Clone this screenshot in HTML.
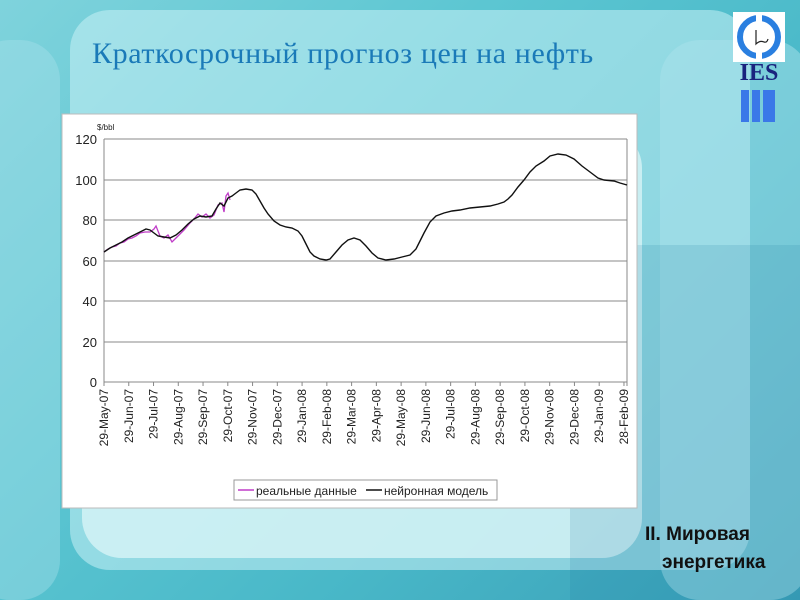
<!DOCTYPE html>
<html><head><meta charset="utf-8"><style>
html,body{margin:0;padding:0}
body{width:800px;height:600px;overflow:hidden;position:relative;background:linear-gradient(135deg,#7fd3dc 0%,#5cc6d2 35%,#49b8c8 65%,#3a9fb8 100%);font-family:"Liberation Sans",sans-serif}
.p{position:absolute;border-radius:40px}
</style></head><body>
<div class="p" style="left:70px;top:10px;width:680px;height:560px;background:rgba(200,240,245,0.55)"></div>
<div class="p" style="left:660px;top:40px;width:150px;height:560px;background:rgba(170,225,235,0.5)"></div>
<div class="p" style="left:-30px;top:40px;width:90px;height:560px;background:rgba(170,225,235,0.4)"></div>
<div class="p" style="left:82px;top:128px;width:560px;height:430px;background:rgba(225,248,250,0.7)"></div>
<div style="position:absolute;left:570px;top:245px;width:230px;height:355px;background:rgba(30,120,160,0.15)"></div>
<div style="position:absolute;left:92px;top:37px;font-family:'Liberation Serif',serif;font-size:30px;color:#1a7ab8;letter-spacing:0.6px">Краткосрочный прогноз цен на нефть</div>
<svg style="position:absolute;left:733px;top:12px" width="62" height="115">
<rect x="0" y="0" width="52" height="50" fill="#fff"/>
<circle cx="26" cy="25" r="19" fill="none" stroke="#2a7fe0" stroke-width="6"/>
<rect x="23" y="0" width="6" height="50" fill="#fff"/>
<path d="M23 18 V32 Q27 28 31 30 Q34 31 35 27" fill="none" stroke="#222" stroke-width="1.2"/>
<text x="26" y="68" text-anchor="middle" font-family="Liberation Serif,serif" font-weight="bold" font-size="24" fill="#1a237e">IES</text>
<rect x="8" y="78" width="8" height="32" fill="#3a78e8"/><rect x="19" y="78" width="8" height="32" fill="#3a78e8"/><rect x="30" y="78" width="12" height="32" fill="#3a78e8"/>
</svg>
<svg style="position:absolute;left:0;top:0" width="800" height="600">
<rect x="62" y="114" width="575" height="394" fill="#fff" stroke="#bbb"/>
<g stroke="#888" stroke-width="1">
<line x1="104" y1="139" x2="627" y2="139"/><line x1="104" y1="180" x2="627" y2="180"/><line x1="104" y1="220" x2="627" y2="220"/><line x1="104" y1="261" x2="627" y2="261"/><line x1="104" y1="301" x2="627" y2="301"/><line x1="104" y1="342" x2="627" y2="342"/><line x1="104" y1="382" x2="627" y2="382"/>
<line x1="104" y1="139" x2="104" y2="382"/><line x1="627" y1="139" x2="627" y2="386"/>
</g>
<g font-family="Liberation Sans,sans-serif" font-size="13" fill="#222" text-anchor="end">
<text x="97" y="144">120</text><text x="97" y="185">100</text><text x="97" y="225">80</text><text x="97" y="266">60</text><text x="97" y="306">40</text><text x="97" y="347">20</text><text x="97" y="387">0</text>
</g>
<text x="97" y="130" font-family="Liberation Sans,sans-serif" font-size="8" fill="#222">$/bbl</text>
<g id="ticks" stroke="#888"></g>
<g id="labs" font-family="Liberation Sans,sans-serif" font-size="12" fill="#222"></g>
<polyline fill="none" stroke="#c03cc8" stroke-width="1.3" points="104,252 108,249 112,247 116,246 120,243 124,242 128,239 132,238 136,236 140,233 145,232 150,232 154,229 156,226 160,236 164,238 168,235 172,242 176,238 180,234 184,230 190,223 194,219 198,214 202,217 206,214 210,218 214,215 218,205 222,203 224,212 226,196 228,193 230,200"/>
<polyline fill="none" stroke="#111" stroke-width="1.4" points="104,252 110,248 116,245 122,242 128,238 134,235 140,232 146,229 150,230 154,233 158,236 164,237 170,238 176,235 182,230 188,224 194,219 200,216 206,217 212,216 216,209 220,203 224,206 228,198 232,196 236,193 240,190 246,189 252,190 256,194 260,201 264,208 268,214 274,221 280,225 286,227 292,228 298,231 302,236 306,244 310,252 314,256 320,259 326,260 330,259 336,252 342,245 348,240 354,238 360,240 366,246 372,253 378,258 386,260 394,259 402,257 410,255 416,249 420,241 424,233 430,222 436,216 444,213 452,211 460,210 470,208 480,207 490,206 498,204 504,202 508,199 512,195 518,187 524,180 530,172 536,166 544,161 550,156 558,154 566,155 574,159 582,166 590,172 598,178 604,180 614,181 620,183 627,185"/>
<rect x="234" y="480" width="263" height="20" fill="#fff" stroke="#999"/>
<line x1="238" y1="490" x2="254" y2="490" stroke="#c03cc8" stroke-width="1.5"/>
<text x="256" y="495" font-family="Liberation Sans,sans-serif" font-size="12" fill="#222">реальные данные</text>
<line x1="366" y1="490" x2="382" y2="490" stroke="#111" stroke-width="1.5"/>
<text x="384" y="495" font-family="Liberation Sans,sans-serif" font-size="12" fill="#222">нейронная модель</text>
<text x="645" y="540" font-family="Liberation Sans,sans-serif" font-size="19" font-weight="bold" fill="#111">II. Мировая</text>
<text x="662" y="568" font-family="Liberation Sans,sans-serif" font-size="19" font-weight="bold" fill="#111">энергетика</text>
</svg>
<script>
var L=["29-May-07","29-Jun-07","29-Jul-07","29-Aug-07","29-Sep-07","29-Oct-07","29-Nov-07","29-Dec-07","29-Jan-08","29-Feb-08","29-Mar-08","29-Apr-08","29-May-08","29-Jun-08","29-Jul-08","29-Aug-08","29-Sep-08","29-Oct-08","29-Nov-08","29-Dec-08","29-Jan-09","28-Feb-09"];
var t=document.getElementById('ticks'),g=document.getElementById('labs'),ns="http://www.w3.org/2000/svg";
for(var i=0;i<22;i++){var x=104+i*24.76;
var l=document.createElementNS(ns,'line');l.setAttribute('x1',x);l.setAttribute('x2',x);l.setAttribute('y1',382);l.setAttribute('y2',386);t.appendChild(l);
var s=document.createElementNS(ns,'text');s.setAttribute('text-anchor','end');s.setAttribute('transform','translate('+(x+4)+',389) rotate(-90)');s.textContent=L[i];g.appendChild(s);}
</script>
</body></html>
